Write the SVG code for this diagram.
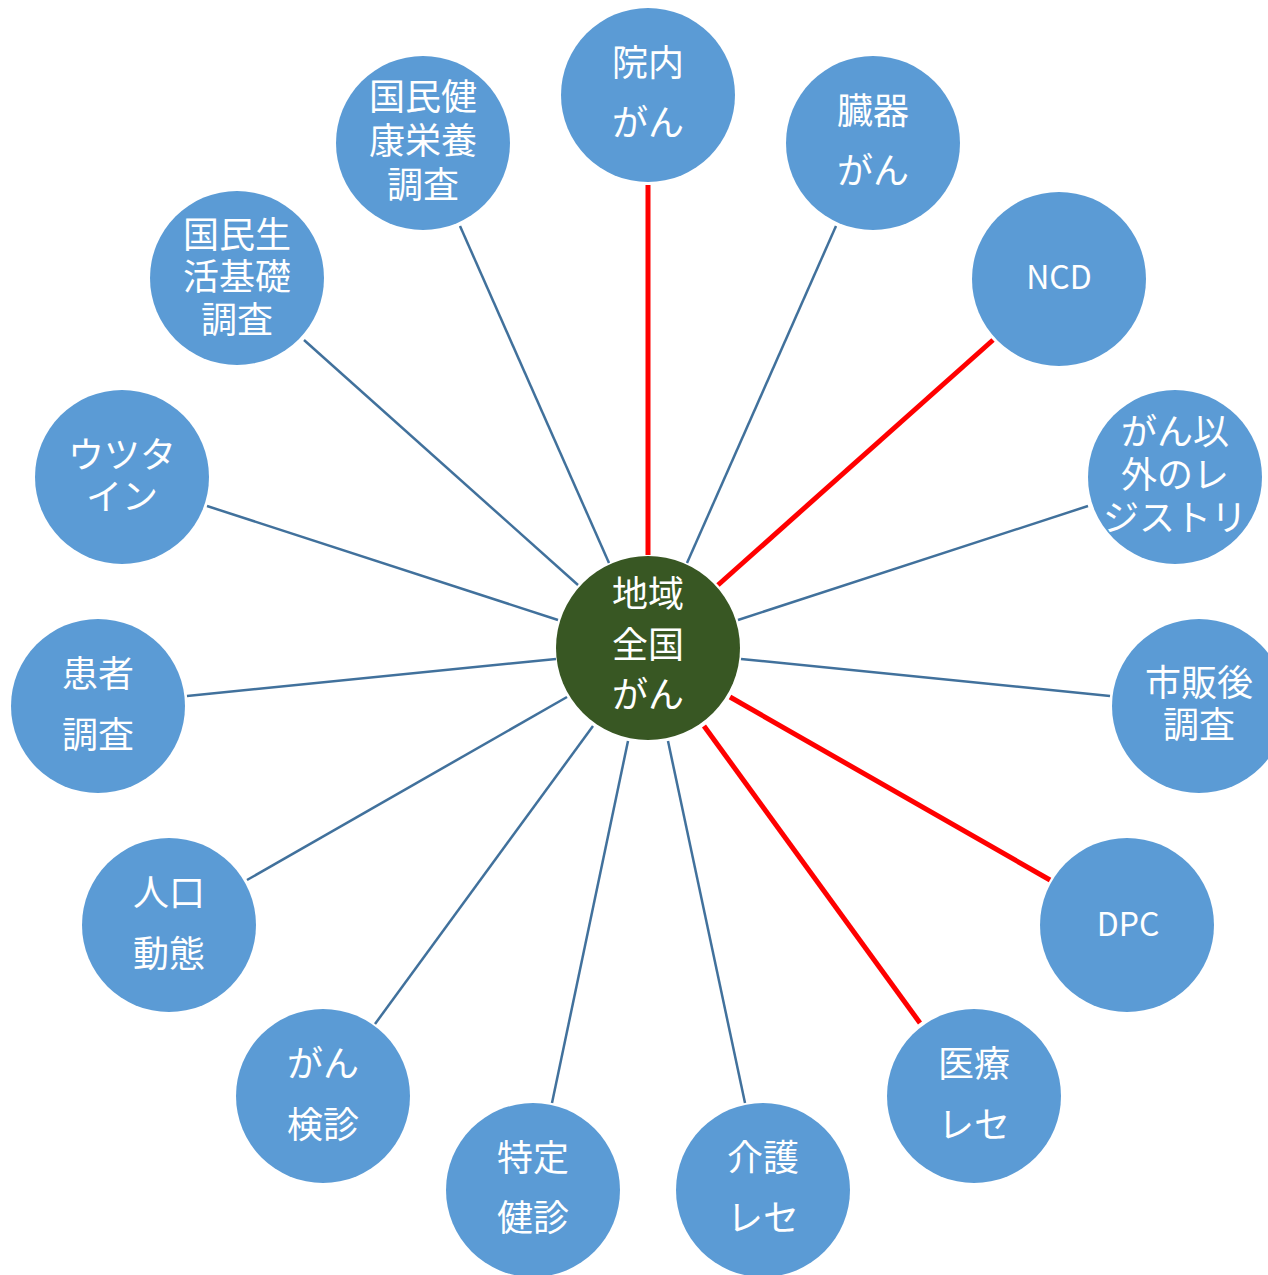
<svg xmlns="http://www.w3.org/2000/svg" width="1268" height="1275" viewBox="0 0 1268 1275">
  <style>
    .node { fill: #5B9BD5; }
    .hub { fill: #385723; }
    .lbl { fill: #FFFFFF; font-family: "Noto Sans CJK JP", "Noto Sans", sans-serif; font-size: 36px; text-anchor: middle; dominant-baseline: central; }
    .lat { fill: #FFFFFF; font-family: "Noto Sans CJK JP", "Noto Sans", sans-serif; font-size: 32px; text-anchor: middle; }
    .thin { stroke: #41719C; stroke-width: 2.5; fill: none; }
    .bold { stroke: #FF0000; stroke-width: 5; fill: none; }
  </style>
  <rect width="1268" height="1275" fill="#FFFFFF"/>

  <!-- spokes from the hub to each source -->
  <g id="connectors">
    <line class="bold" x1="648" y1="185" x2="648" y2="555"/>
    <line class="thin" x1="836" y1="226" x2="687" y2="563"/>
    <line class="bold" x1="993" y1="340" x2="718" y2="585"/>
    <line class="thin" x1="1088" y1="506" x2="738" y2="620"/>
    <line class="thin" x1="1110" y1="696" x2="741" y2="659"/>
    <line class="bold" x1="1050" y1="880" x2="730" y2="697"/>
    <line class="bold" x1="920" y1="1023" x2="704" y2="726"/>
    <line class="thin" x1="745" y1="1103" x2="668" y2="741"/>
    <line class="thin" x1="552" y1="1103" x2="628" y2="741"/>
    <line class="thin" x1="375" y1="1024" x2="593" y2="726"/>
    <line class="thin" x1="247" y1="880" x2="567" y2="697"/>
    <line class="thin" x1="187" y1="696" x2="556" y2="659"/>
    <line class="thin" x1="207" y1="506" x2="558" y2="620"/>
    <line class="thin" x1="304" y1="340" x2="578" y2="585"/>
    <line class="thin" x1="460" y1="226" x2="609" y2="563"/>
  </g>

  <g id="hub">
    <circle class="hub" cx="648" cy="648" r="92"/>
    <text class="lbl" x="648" y="591">地域</text>
    <text class="lbl" x="648" y="642">全国</text>
    <text class="lbl" x="648" y="692">がん</text>
  </g>

  <g id="innai">
    <circle class="node" cx="648" cy="95" r="87"/>
    <text class="lbl" x="648" y="60">院内</text>
    <text class="lbl" x="648" y="120">がん</text>
  </g>
  <g id="zouki">
    <circle class="node" cx="873" cy="143" r="87"/>
    <text class="lbl" x="873" y="108">臓器</text>
    <text class="lbl" x="873" y="168">がん</text>
  </g>
  <g id="ncd">
    <circle class="node" cx="1059" cy="279" r="87"/>
    <text class="lat" x="1059" y="289">NCD</text>
  </g>
  <g id="other-registry">
    <circle class="node" cx="1175" cy="477" r="87"/>
    <text class="lbl" x="1175" y="429">がん以</text>
    <text class="lbl" x="1175" y="472">外のレ</text>
    <text class="lbl" x="1175" y="515">ジストリ</text>
  </g>
  <g id="post-marketing">
    <circle class="node" cx="1199" cy="706" r="87"/>
    <text class="lbl" x="1199" y="680">市販後</text>
    <text class="lbl" x="1199" y="722">調査</text>
  </g>
  <g id="dpc">
    <circle class="node" cx="1127" cy="925" r="87"/>
    <text class="lat" x="1128" y="936">DPC</text>
  </g>
  <g id="medical-receipt">
    <circle class="node" cx="974" cy="1096" r="87"/>
    <text class="lbl" x="974" y="1061">医療</text>
    <text class="lbl" x="974" y="1122">レセ</text>
  </g>
  <g id="care-receipt">
    <circle class="node" cx="763" cy="1190" r="87"/>
    <text class="lbl" x="763" y="1155">介護</text>
    <text class="lbl" x="763" y="1215">レセ</text>
  </g>
  <g id="health-checkup">
    <circle class="node" cx="533" cy="1190" r="87"/>
    <text class="lbl" x="533" y="1155">特定</text>
    <text class="lbl" x="533" y="1215">健診</text>
  </g>
  <g id="cancer-screening">
    <circle class="node" cx="323" cy="1096" r="87"/>
    <text class="lbl" x="323" y="1061">がん</text>
    <text class="lbl" x="323" y="1122">検診</text>
  </g>
  <g id="vital-statistics">
    <circle class="node" cx="169" cy="925" r="87"/>
    <text class="lbl" x="169" y="890">人口</text>
    <text class="lbl" x="169" y="951">動態</text>
  </g>
  <g id="patient-survey">
    <circle class="node" cx="98" cy="706" r="87"/>
    <text class="lbl" x="98" y="671">患者</text>
    <text class="lbl" x="98" y="732">調査</text>
  </g>
  <g id="utstein">
    <circle class="node" cx="122" cy="477" r="87"/>
    <text class="lbl" x="122" y="452">ウツタ</text>
    <text class="lbl" x="122" y="494">イン</text>
  </g>
  <g id="living-conditions">
    <circle class="node" cx="237" cy="278" r="87"/>
    <text class="lbl" x="237" y="232">国民生</text>
    <text class="lbl" x="237" y="274">活基礎</text>
    <text class="lbl" x="237" y="317">調査</text>
  </g>
  <g id="health-nutrition">
    <circle class="node" cx="423" cy="143" r="87"/>
    <text class="lbl" x="423" y="94">国民健</text>
    <text class="lbl" x="423" y="138">康栄養</text>
    <text class="lbl" x="423" y="182">調査</text>
  </g>
</svg>
